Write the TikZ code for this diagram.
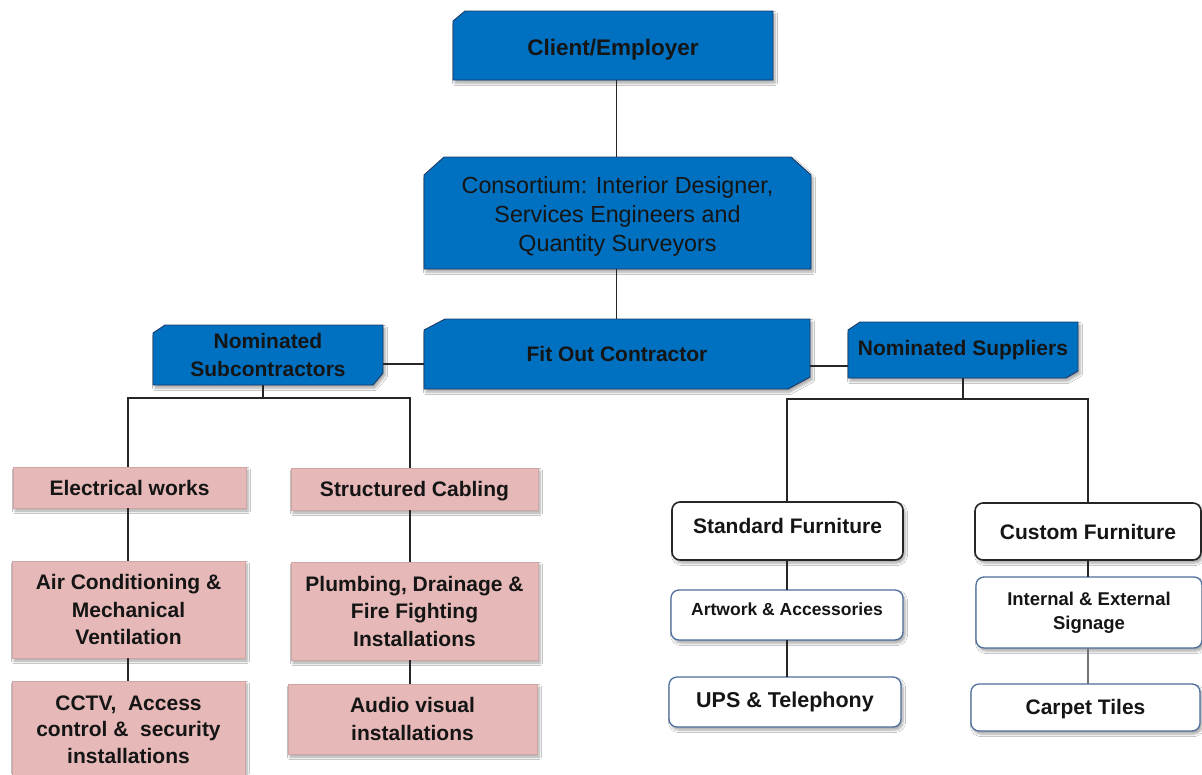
\documentclass[tikz,border=0pt]{standalone}
\usepackage{fontspec}
\setmainfont{Liberation Sans}
\usetikzlibrary{shadows.blur}

% a rectangle whose corners can be bevelled by separate amounts
\makeatletter
\pgfkeys{/pgf/cut nw x/.initial=0pt, /pgf/cut nw y/.initial=0pt,
         /pgf/cut ne x/.initial=0pt, /pgf/cut ne y/.initial=0pt,
         /pgf/cut se x/.initial=0pt, /pgf/cut se y/.initial=0pt}
\pgfdeclareshape{cutbox}{
  \inheritsavedanchors[from=rectangle]
  \inheritanchorborder[from=rectangle]
  \inheritanchor[from=rectangle]{center}
  \inheritanchor[from=rectangle]{mid}
  \inheritanchor[from=rectangle]{base}
  \inheritanchor[from=rectangle]{north}
  \inheritanchor[from=rectangle]{south}
  \inheritanchor[from=rectangle]{east}
  \inheritanchor[from=rectangle]{west}
  \inheritanchor[from=rectangle]{north east}
  \inheritanchor[from=rectangle]{north west}
  \inheritanchor[from=rectangle]{south east}
  \inheritanchor[from=rectangle]{south west}
  \backgroundpath{%
    \southwest \edef\cb@l{\the\pgf@x}\edef\cb@b{\the\pgf@y}%
    \northeast \edef\cb@r{\the\pgf@x}\edef\cb@t{\the\pgf@y}%
    \pgfmathsetlengthmacro\cb@nwx{\pgfkeysvalueof{/pgf/cut nw x}}%
    \pgfmathsetlengthmacro\cb@nwy{\pgfkeysvalueof{/pgf/cut nw y}}%
    \pgfmathsetlengthmacro\cb@nex{\pgfkeysvalueof{/pgf/cut ne x}}%
    \pgfmathsetlengthmacro\cb@ney{\pgfkeysvalueof{/pgf/cut ne y}}%
    \pgfmathsetlengthmacro\cb@sex{\pgfkeysvalueof{/pgf/cut se x}}%
    \pgfmathsetlengthmacro\cb@sey{\pgfkeysvalueof{/pgf/cut se y}}%
    \pgfpathmoveto{\pgfqpoint{\cb@l}{\dimexpr\cb@t-\cb@nwy\relax}}%
    \pgfpathlineto{\pgfqpoint{\dimexpr\cb@l+\cb@nwx\relax}{\cb@t}}%
    \pgfpathlineto{\pgfqpoint{\dimexpr\cb@r-\cb@nex\relax}{\cb@t}}%
    \pgfpathlineto{\pgfqpoint{\cb@r}{\dimexpr\cb@t-\cb@ney\relax}}%
    \pgfpathlineto{\pgfqpoint{\cb@r}{\dimexpr\cb@b+\cb@sey\relax}}%
    \pgfpathlineto{\pgfqpoint{\dimexpr\cb@r-\cb@sex\relax}{\cb@b}}%
    \pgfpathlineto{\pgfqpoint{\cb@l}{\cb@b}}%
    \pgfpathclose
  }
}
\makeatother

% move a label up or down inside its box without changing the box
\newcommand\nudge[2]{\raisebox{#1}[\height][\depth]{\begin{tabular}{@{}c@{}}#2\end{tabular}}}

\definecolor{boxblue}{HTML}{0070C0}
\definecolor{boxedge}{HTML}{1C3A66}
\definecolor{pinkfill}{HTML}{E6B9B8}
\definecolor{slate}{HTML}{4E6E9E}
\definecolor{ink}{HTML}{151515}

\tikzset{
  softshadow/.style={blur shadow={shadow xshift=2pt, shadow yshift=-3pt,
      shadow opacity=35, shadow blur steps=6, shadow blur radius=2.5pt}},
  cut nw/.style 2 args={/pgf/cut nw x=#1, /pgf/cut nw y=#2},
  cut ne/.style 2 args={/pgf/cut ne x=#1, /pgf/cut ne y=#2},
  cut se/.style 2 args={/pgf/cut se x=#1, /pgf/cut se y=#2},
  bluebox/.style={shape=cutbox, fill=boxblue, draw=boxedge, line width=0.9pt,
      inner sep=0pt, outer sep=0pt, align=center, text=ink,
      font=\fontsize{21}{28.5}\selectfont\bfseries, softshadow},
  pinkbox/.style={rectangle, fill=pinkfill, draw=pinkfill!90!black, line width=0.5pt,
      inner sep=0pt, outer sep=0pt, align=center, text=ink,
      font=\fontsize{21}{27.5}\selectfont\bfseries, softshadow},
  whitebox/.style={rectangle, rounded corners=8pt, fill=white, draw=black!85,
      line width=1.6pt, inner sep=0pt, outer sep=0pt, align=center, text=ink,
      font=\fontsize{21}{27}\selectfont\bfseries, softshadow},
  slatebox/.style={whitebox, draw=slate, line width=1.3pt},
  linkline/.style={draw=black!85, line width=1.2pt},
}

\begin{document}
\begin{tikzpicture}[x=1pt, y=-1pt]
\useasboundingbox (0,0) rectangle (1202,774);
\fill[white] (0,0) rectangle (1202,774);

% management chain
\node[bluebox, cut nw={12pt}{10pt}, minimum width=320pt, minimum height=69pt,
      font=\fontsize{22.5}{28}\selectfont\bfseries]
  (client) at (613,45.5) {\nudge{-4pt}{Client/Employer}};
\node[bluebox, cut nw={20pt}{18pt}, cut ne={20pt}{18pt}, minimum width=387pt, minimum height=112pt,
      font=\fontsize{23.3}{29}\selectfont]
  (cons) at (617.5,213) {\nudge{-4pt}{Consortium: Interior Designer,\\Services Engineers and\\Quantity Surveyors}};
\node[bluebox, cut nw={21pt}{11pt}, cut se={22pt}{12pt}, minimum width=386pt, minimum height=70pt]
  (foc) at (617,354) {Fit Out Contractor};
\node[bluebox, cut nw={12pt}{8pt}, cut se={10pt}{12pt}, minimum width=230pt, minimum height=60pt]
  (nsub) at (268,355) {Nominated\\Subcontractors};
\node[bluebox, cut nw={12pt}{8pt}, cut se={12pt}{7pt}, minimum width=230pt, minimum height=56pt]
  (nsup) at (963,350) {Nominated Suppliers};

% subcontract packages
\node[pinkbox, minimum width=233pt, minimum height=41pt] (elec) at (129.5,487.5) {Electrical works};
\node[pinkbox, minimum width=233pt, minimum height=97pt] (aircon) at (128.5,609.5) {Air Conditioning \&\\Mechanical\\Ventilation};
\node[pinkbox, minimum width=233pt, minimum height=97pt,
      font=\fontsize{21}{26.5}\selectfont\bfseries] (cctv) at (128.5,729.5) {CCTV,~ Access\\control \&~ security\\installations};
\node[pinkbox, minimum width=247pt, minimum height=42pt] (struct) at (414.5,489) {\nudge{-2pt}{Structured Cabling}};
\node[pinkbox, minimum width=247pt, minimum height=98pt] (plumb) at (414.5,611) {Plumbing, Drainage \&\\Fire Fighting\\Installations};
\node[pinkbox, minimum width=249pt, minimum height=70pt] (audio) at (412.5,719) {Audio visual\\installations};

% supply packages
\node[whitebox, minimum width=231pt, minimum height=58pt] (stdf) at (787.5,531) {\nudge{3pt}{Standard Furniture}};
\node[slatebox, minimum width=232pt, minimum height=50pt,
      font=\fontsize{17.5}{24}\selectfont\bfseries] (art) at (787,615) {\nudge{4pt}{Artwork \& Accessories}};
\node[slatebox, minimum width=232pt, minimum height=50pt,
      font=\fontsize{21.5}{27}\selectfont\bfseries] (ups) at (785,702) {UPS \& Telephony};
\node[whitebox, minimum width=226pt, minimum height=57pt] (cust) at (1088,531.5) {Custom Furniture};
\node[slatebox, minimum width=226pt, minimum height=71pt,
      font=\fontsize{18.5}{24}\selectfont\bfseries] (sign) at (1089,612.5) {Internal \& External\\Signage};
\node[slatebox, minimum width=229pt, minimum height=47pt] (carpet) at (1085.5,707.5) {\nudge{-2pt}{Carpet Tiles}};

% bus points for the branching connectors
\coordinate (lbus) at (263,398);
\coordinate (lb1) at (128,398);
\coordinate (lb2) at (410,398);
\coordinate (rbus) at (963,399);
\coordinate (rb1) at (787,399);
\coordinate (rb2) at (1088,399);
\coordinate (mainx) at (616.5,0);

\draw[linkline] (client.south -| mainx) -- (cons.north -| mainx);
\draw[linkline] (cons.south -| mainx) -- (foc.north -| mainx);
\draw[linkline] ([yshift=-9pt]nsub.east) -- ([yshift=-9pt]nsub.east -| foc.west);
\draw[linkline] ([yshift=-16pt]nsup.west) -- ([yshift=-16pt]nsup.west -| foc.east);

\draw[linkline] (nsub.south -| lbus) -- (lbus);
\draw[linkline] (elec.north -| lb1) |- (lb2) -- (struct.north -| lb2);
\draw[linkline] (elec.south -| lb1) -- (aircon.north -| lb1);
\draw[linkline] (aircon.south -| lb1) -- (cctv.north -| lb1);
\draw[linkline] (struct.south -| lb2) -- (plumb.north -| lb2);
\draw[linkline] (plumb.south -| lb2) -- (audio.north -| lb2);

\draw[linkline] (nsup.south -| rbus) -- (rbus);
\draw[linkline] (stdf.north -| rb1) |- (rb2) -- (cust.north -| rb2);
\draw[linkline] (stdf.south -| rb1) -- (art.north -| rb1);
\draw[linkline] (art.south -| rb1) -- (ups.north -| rb1);
\draw[linkline] (cust.south -| rb2) -- (sign.north -| rb2);
\draw[linkline, draw=black!55] (sign.south -| rb2) -- (carpet.north -| rb2);
\end{tikzpicture}
\end{document}
